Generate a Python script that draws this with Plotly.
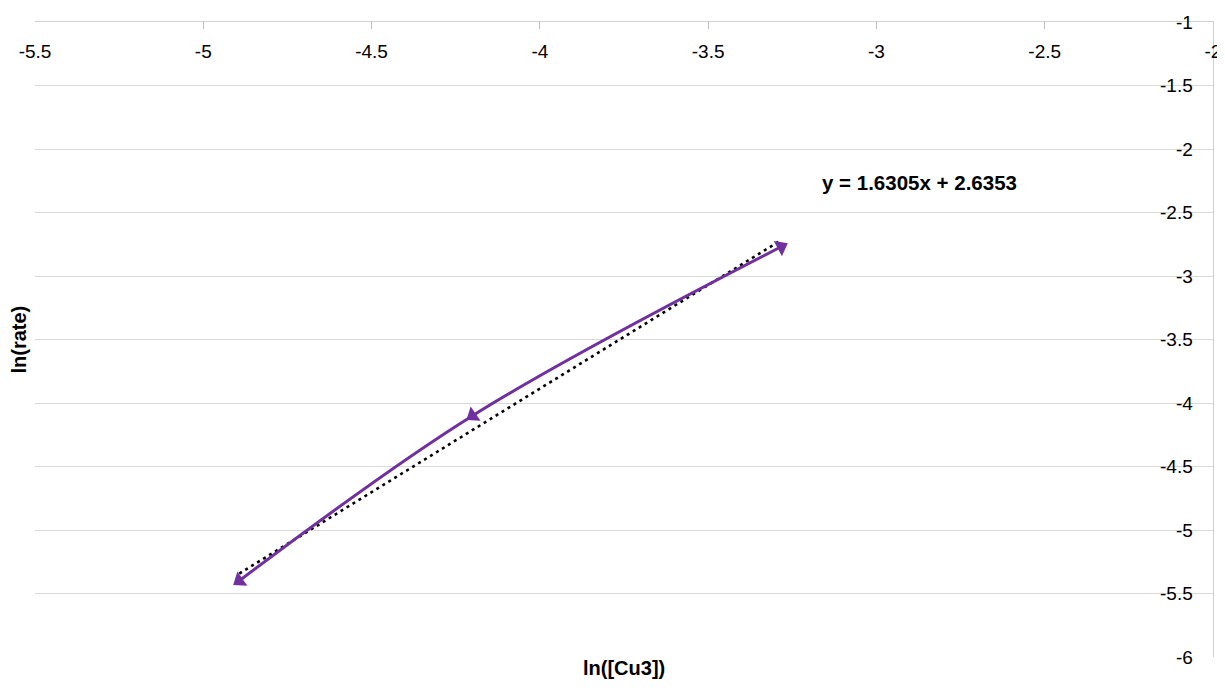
import plotly.graph_objects as go

# Data
ln_cu3 = [-4.893, -4.200, -3.283]
ln_rate = [-5.40, -4.10, -2.77]
trend_slope = 1.6305
trend_intercept = 2.6353
x_ticks = [-5.5, -5, -4.5, -4, -3.5, -3, -2.5, -2]
y_ticks = [-1, -1.5, -2, -2.5, -3, -3.5, -4, -4.5, -5, -5.5, -6]

PURPLE = "#7030A0"
TICK_FONT = dict(family="Liberation Sans, Arial, sans-serif", size=19, color="#000000")
TITLE_FONT = dict(family="Liberation Sans, Arial, sans-serif", size=20, color="#000000", weight="bold")
EQ_FONT = dict(family="Liberation Sans, Arial, sans-serif", size=20.5, color="#000000", weight="bold")

x0, x1 = min(ln_cu3), max(ln_cu3)
trend_x = [x0, x1]
trend_y = [trend_slope * v + trend_intercept for v in trend_x]

fig = go.Figure()
fig.add_trace(go.Scatter(
    x=trend_x, y=trend_y, mode="lines",
    line=dict(color="#000000", width=2.6, dash="3px,4px"),
    hoverinfo="skip", showlegend=False,
))
fig.add_trace(go.Scatter(
    x=ln_cu3, y=ln_rate, mode="lines+markers",
    line=dict(color=PURPLE, width=3, shape="spline", smoothing=1),
    marker=dict(symbol="triangle-up", size=15, color=PURPLE, angle=[235, 235, 62]),
    showlegend=False,
))

eq_text = f"y = {trend_slope}x + {trend_intercept}"
fig.add_annotation(
    text=eq_text, x=-2.872, y=-2.26, xref="x", yref="y",
    showarrow=False, font=EQ_FONT, xanchor="center", yanchor="middle",
)
fig.add_annotation(
    text="ln([Cu3])", x=0.5, y=0, xref="paper", yref="paper",
    yshift=-11, showarrow=False, font=TITLE_FONT,
    xanchor="center", yanchor="middle",
)
fig.add_annotation(
    text="ln(rate)", x=0, y=0.5, xref="paper", yref="paper",
    xshift=-17, showarrow=False, font=TITLE_FONT, textangle=-90,
    xanchor="center", yanchor="middle",
)

fig.update_xaxes(
    range=[-5.5, -2], side="top", tickvals=x_ticks,
    ticktext=[f"{v:g}" for v in x_ticks],
    ticklabelposition="inside", ticklabeloverflow="allow",
    ticks="inside", ticklen=7, tickcolor="#bfbfbf", tickwidth=1,
    ticklabelstandoff=17, automargin=False,
    showgrid=False, zeroline=False,
    showline=True, linecolor="#d0d0d0", linewidth=1,
    tickfont=TICK_FONT,
)
fig.update_yaxes(
    range=[-6, -1], side="right", tickvals=y_ticks,
    ticktext=[f"{v:g}" for v in y_ticks],
    ticklabelposition="inside", ticklabeloverflow="allow",
    ticks="", ticklabelstandoff=21, automargin=False,
    showgrid=True, gridcolor="#d9d9d9", gridwidth=1, zeroline=False,
    showline=True, linecolor="#d0d0d0", linewidth=1,
    tickfont=TICK_FONT,
)
fig.update_layout(
    width=1225, height=688,
    margin=dict(l=27, r=20, t=14, b=39, autoexpand=False),
    plot_bgcolor="white", paper_bgcolor="white",
)
fig.write_html("out.html")
